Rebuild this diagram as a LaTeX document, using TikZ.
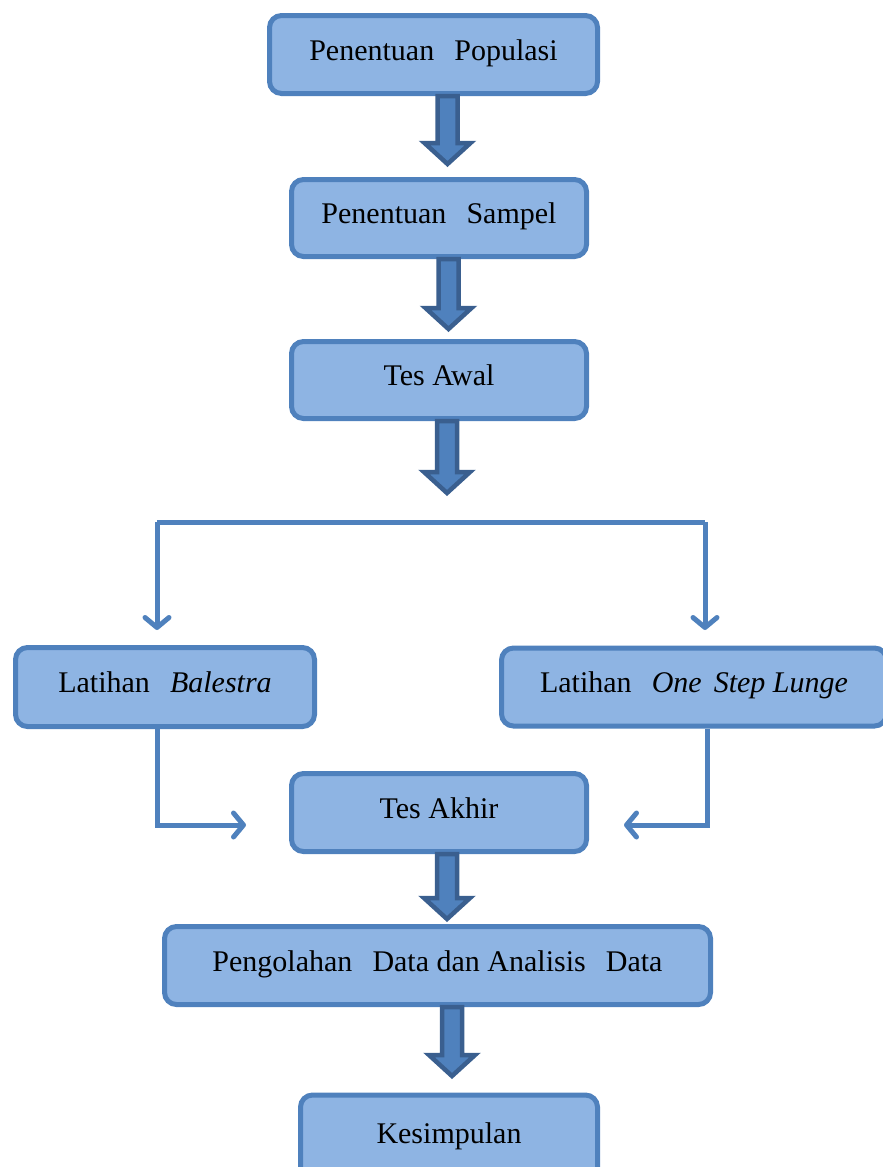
\documentclass[tikz,border=0pt]{standalone}
\usepackage{fontspec}
\setmainfont{Liberation Serif}
\usetikzlibrary{arrows.meta,calc}
\definecolor{boxfill}{HTML}{8EB4E3}
\definecolor{boxline}{HTML}{4F81BD}
\definecolor{arrfill}{HTML}{4F81BD}
\definecolor{arrdark}{HTML}{3A5F8F}
\tikzset{
  box/.style={draw=boxline, fill=boxfill, line width=5pt, rounded corners=12pt,
    text height=20pt, text depth=9pt, font=\fontsize{30}{36}\selectfont},
  blockarr/.style={draw=arrdark, fill=arrfill, line width=4.5pt, line join=miter},
  conn/.style={draw=boxline, line width=5pt, line join=miter,
    -{Straight Barb[length=10pt,width=24pt,round]}},
}
\newcommand{\blockarrow}[2]{%
  \path[blockarr] let \p1=(#1), \p2=(#2) in
    (\x2-10pt,\y1) -- (\x2+10pt,\y1) -- (\x2+10pt,\y2+21pt) -- (\x2+23pt,\y2+21pt)
    -- (\x2,\y2) -- (\x2-23pt,\y2+21pt) -- (\x2-10pt,\y2+21pt) -- cycle;}
\begin{document}
\begin{tikzpicture}[x=1pt,y=-1pt]
\useasboundingbox (0,0) rectangle (883,1167);
\node[box, minimum width=328pt, minimum height=78pt] (n1) at (433.5,54.5) {Penentuan \hspace{0.42em}Populasi};
\node[box, minimum width=295pt, minimum height=77pt] (n2) at (439,218) {Penentuan \hspace{0.42em}Sampel};
\node[box, minimum width=295pt, minimum height=77pt] (n3) at (439,380) {Tes Awal};
\node[box, minimum width=299pt, minimum height=79pt] (n4) at (165,687) {Latihan \hspace{0.42em}\textit{Balestra}};
\node[box, minimum width=385pt, minimum height=78pt] (n5) at (694,687) {Latihan \hspace{0.42em}\textit{One \hspace{0.15em}Step Lunge}};
\node[box, minimum width=295pt, minimum height=78pt] (n6) at (439,812.5) {Tes Akhir};
\node[box, minimum width=546pt, minimum height=78pt] (n7) at (437.5,965.5) {Pengolahan \hspace{0.42em}Data dan Analisis \hspace{0.42em}Data};
\node[box, minimum width=297pt, minimum height=86pt] (n8) at (449,1138) {Kesimpulan};

% block arrows
\coordinate (t1) at (447.5,164);
\coordinate (t2) at (448.5,329);
\coordinate (t3) at (447,493);
\coordinate (t4) at (447,919);
\coordinate (t5) at (452,1076);
\blockarrow{n1.south}{t1}
\blockarrow{n2.south}{t2}
\blockarrow{n3.south}{t3}
\blockarrow{n6.south}{t4}
\blockarrow{n7.south}{t5}

% branch
\coordinate (bl) at (157,522);
\coordinate (br) at (705,522);
\coordinate (bla) at (157,630);
\coordinate (bra) at (705,630);
\draw[draw=boxline, line width=5pt] (bl) -- (br);
\draw[conn] (bl) -- (bla);
\draw[conn] (br) -- (bra);

% into Tes Akhir
\coordinate (lc) at (157,825);
\coordinate (le) at (246,825);
\coordinate (rc) at (707,825);
\coordinate (re) at (624,825);
\draw[conn] (n4.south -| lc) -- (lc) -- (le);
\draw[conn] (n5.south -| rc) -- (rc) -- (re);
\end{tikzpicture}
\end{document}
